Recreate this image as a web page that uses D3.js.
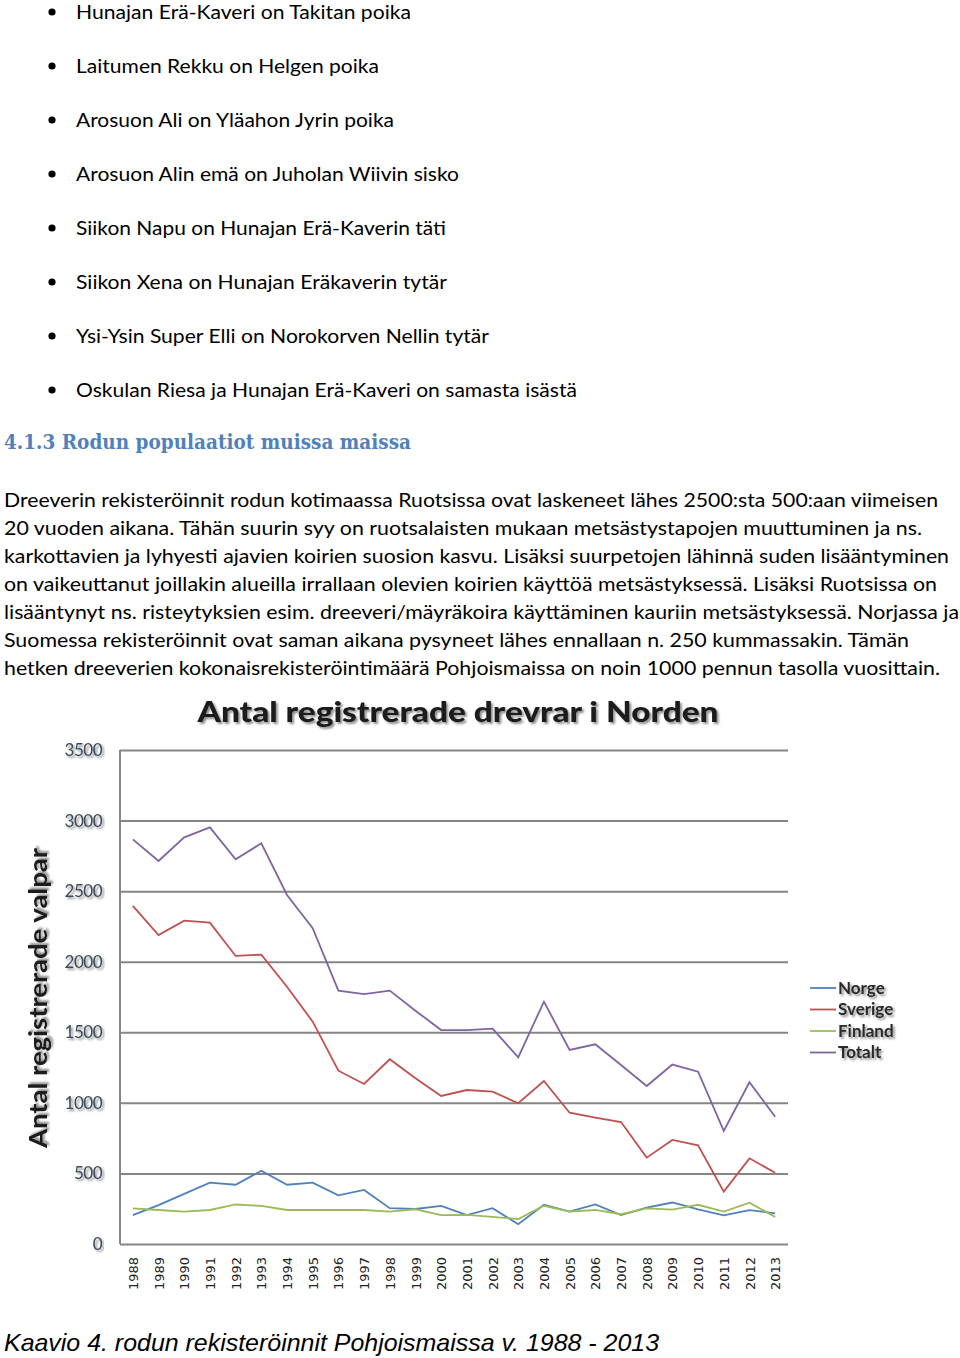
<!DOCTYPE html>
<html><head><meta charset="utf-8">
<script src="https://cdn.jsdelivr.net/npm/d3@7"></script>
<style>body{margin:0;background:#fff}svg{display:block}</style>
</head><body>
<script>
const years = [1988,1989,1990,1991,1992,1993,1994,1995,1996,1997,1998,1999,2000,2001,2002,2003,2004,2005,2006,2007,2008,2009,2010,2011,2012,2013];
const norge   = [204,275,355,435,420,519,420,435,345,383,254,248,270,205,254,140,278,230,280,205,257,294,246,203,240,217];
const sverige = [2395,2189,2291,2277,2041,2050,1823,1575,1228,1134,1309,1174,1049,1091,1079,997,1155,930,895,864,612,737,699,371,607,505];
const finland = [253,241,229,241,280,270,241,241,241,241,230,246,205,207,192,177,271,229,241,211,253,244,278,230,293,192];
const totalt  = [2867,2714,2881,2952,2725,2839,2473,2237,1795,1771,1795,1653,1516,1516,1526,1323,1717,1375,1415,1268,1119,1271,1221,801,1146,902];
const seriesNames = ["Norge","Sverige","Finland","Totalt"];
const seriesColors = ["#4f81bd","#c0504d","#9bbb59","#8064a2"];
const yTicks = [0,500,1000,1500,2000,2500,3000,3500];

const bullets = [
  "Hunajan Erä-Kaveri on Takitan poika",
  "Laitumen Rekku on Helgen poika",
  "Arosuon Ali on Yläahon Jyrin poika",
  "Arosuon Alin emä on Juholan Wiivin sisko",
  "Siikon Napu on Hunajan Erä-Kaverin täti",
  "Siikon Xena on Hunajan Eräkaverin tytär",
  "Ysi-Ysin Super Elli on Norokorven Nellin tytär",
  "Oskulan Riesa ja Hunajan Erä-Kaveri on samasta isästä"
];
const bulletEnds = [411,379,394,459,446,447,489,577];
const heading = "4.1.3 Rodun populaatiot muissa maissa";
const para = [
  "Dreeverin rekisteröinnit rodun kotimaassa Ruotsissa ovat laskeneet lähes 2500:sta 500:aan viimeisen",
  "20 vuoden aikana. Tähän suurin syy on ruotsalaisten mukaan metsästystapojen muuttuminen ja ns.",
  "karkottavien ja lyhyesti ajavien koirien suosion kasvu. Lisäksi suurpetojen lähinnä suden lisääntyminen",
  "on vaikeuttanut joillakin alueilla irrallaan olevien koirien käyttöä metsästyksessä. Lisäksi Ruotsissa on",
  "lisääntynyt ns. risteytyksien esim. dreeveri/mäyräkoira käyttäminen kauriin metsästyksessä. Norjassa ja",
  "Suomessa rekisteröinnit ovat saman aikana pysyneet lähes ennallaan n. 250 kummassakin. Tämän",
  "hetken dreeverien kokonaisrekisteröintimäärä Pohjoismaissa on noin 1000 pennun tasolla vuosittain."
];
const paraEnds = [938,922,949,937,959,909,940];
const chartTitle = "Antal registrerade drevrar i Norden";
const yTitle = "Antal registrerade valpar";
const caption = "Kaavio 4. rodun rekisteröinnit Pohjoismaissa v. 1988 - 2013";

const W = 960, H = 1358;
const svg = d3.select("body").append("svg").attr("width", W).attr("height", H);
svg.append("rect").attr("width", W).attr("height", H).attr("fill", "#fff");

const defs = svg.append("defs");
const f = defs.append("filter").attr("id","shadow").attr("x","-5%").attr("y","-20%").attr("width","110%").attr("height","140%");
f.append("feGaussianBlur").attr("in","SourceAlpha").attr("stdDeviation",1.2).attr("result","b");
f.append("feOffset").attr("in","b").attr("dx",1.5).attr("dy",1.5).attr("result","o");
f.append("feComponentTransfer").attr("in","o").attr("result","o2").append("feFuncA").attr("type","linear").attr("slope",0.45);
const mg = f.append("feMerge"); mg.append("feMergeNode").attr("in","o2"); mg.append("feMergeNode").attr("in","SourceGraphic");

// bullets
const bodyFont = "Lato, 'Open Sans', sans-serif";
bullets.forEach((t,i)=>{
  const by = 19 + i*54;
  svg.append("circle").attr("cx",52).attr("cy",by-7).attr("r",3.6).attr("fill","#000");
  svg.append("text").attr("x",76).attr("y",by).attr("font-family",bodyFont).attr("font-size",19.5)
    .attr("fill","#000").attr("textLength",bulletEnds[i]-76).attr("lengthAdjust","spacingAndGlyphs").text(t);
});
svg.append("text").attr("x",4).attr("y",449).attr("font-family","'DejaVu Serif', 'Liberation Serif', serif")
  .attr("font-weight","bold").attr("font-size",21).attr("fill","#4f81bd")
  .attr("textLength",407).attr("lengthAdjust","spacingAndGlyphs").text(heading);
para.forEach((t,i)=>{
  svg.append("text").attr("x",4).attr("y",507+i*28).attr("font-family",bodyFont).attr("font-size",20)
    .attr("fill","#000").attr("textLength",paraEnds[i]-4).attr("lengthAdjust","spacingAndGlyphs").text(t);
});

// chart
const pL = 120, pR = 788, pT = 750, pB = 1244;
const x = d3.scalePoint().domain(years).range([pL, pR]).padding(0.5);
const y = d3.scaleLinear().domain([0,3500]).range([pB, pT]);

svg.append("text").attr("x",458).attr("y",722).attr("text-anchor","middle")
  .attr("font-family","Lato, sans-serif").attr("font-weight","900").attr("font-size",28).attr("fill","#1a1a1a")
  .attr("textLength",521).attr("lengthAdjust","spacingAndGlyphs").attr("filter","url(#shadow)").text(chartTitle);

const gy = svg.append("g").attr("transform",`translate(${pL},0)`)
  .call(d3.axisLeft(y).tickValues(yTicks).tickSize(-(pR-pL)).tickPadding(18).tickFormat(d3.format("d")));
gy.select(".domain").remove();
gy.selectAll(".tick line").attr("stroke","#868686").attr("stroke-width",2);
gy.selectAll(".tick text").attr("font-family","Lato, sans-serif").attr("font-size",17).attr("fill","#3b4a5a")
  .attr("letter-spacing","-0.5").attr("filter","url(#shadow)");
svg.append("line").attr("x1",pL).attr("x2",pL).attr("y1",pT).attr("y2",pB).attr("stroke","#868686").attr("stroke-width",2);

const gx = svg.append("g").attr("transform",`translate(0,${pB})`)
  .call(d3.axisBottom(x).tickSize(0).tickPadding(0).tickFormat(d3.format("d")));
gx.select(".domain").remove();
gx.selectAll(".tick text").attr("transform","rotate(-90)").attr("text-anchor","end")
  .attr("x",-13).attr("y",0).attr("dy","0.35em").attr("font-family","'DejaVu Sans', sans-serif").attr("font-size",13).attr("fill","#222");

svg.append("text").attr("transform","translate(47,998) rotate(-90)").attr("text-anchor","middle")
  .attr("font-family","Lato, sans-serif").attr("font-weight","bold").attr("font-size",25).attr("fill","#1a1a1a")
  .attr("textLength",300).attr("lengthAdjust","spacingAndGlyphs").attr("filter","url(#shadow)").text(yTitle);

const allSeries = [norge, sverige, finland, totalt];
const line = d3.line().x((d,i)=>x(years[i])).y(d=>y(d));
allSeries.forEach((s,k)=>{
  svg.append("path").datum(s).attr("d",line).attr("fill","none").attr("stroke",seriesColors[k]).attr("stroke-width",1.8);
});

// legend
seriesNames.forEach((n,k)=>{
  const ly = 988 + k*21.5;
  svg.append("line").attr("x1",810).attr("x2",836).attr("y1",ly).attr("y2",ly).attr("stroke",seriesColors[k]).attr("stroke-width",1.8);
  svg.append("text").attr("x",838).attr("y",ly+5.5).attr("font-family","Lato, sans-serif").attr("font-size",17)
    .attr("font-weight","bold").attr("fill","#2a2a2a").attr("filter","url(#shadow)").text(n);
});

svg.append("text").attr("x",4).attr("y",1351).attr("font-family","'Liberation Sans', Arial, sans-serif")
  .attr("font-style","italic").attr("font-size",24).attr("fill","#000")
  .attr("textLength",655).attr("lengthAdjust","spacingAndGlyphs").text(caption);
</script>
</body></html>
